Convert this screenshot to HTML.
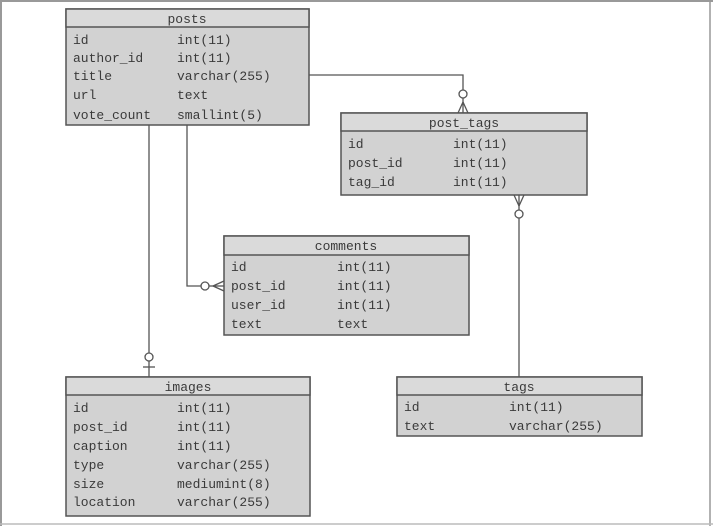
<!DOCTYPE html>
<html><head><meta charset="utf-8"><style>
html,body{margin:0;padding:0;background:#fff;}
svg{display:block;}
text{font-family:"Liberation Mono",monospace;font-size:13px;fill:#3a3a3a;}
</style></head><body>
<svg width="713" height="526" viewBox="0 0 713 526" xmlns="http://www.w3.org/2000/svg">
<rect x="0" y="0" width="713" height="526" fill="#fff"/>
<line x1="0" y1="1" x2="713" y2="1" stroke="#999" stroke-width="2"/>
<line x1="1" y1="0" x2="1" y2="526" stroke="#999" stroke-width="2"/>
<line x1="710" y1="0" x2="710" y2="526" stroke="#999" stroke-width="1.5"/>
<line x1="0" y1="524" x2="713" y2="524" stroke="#bbb" stroke-width="1.5"/>

<g stroke="#555" stroke-width="1.3" fill="none">
<!-- posts -> post_tags -->
<polyline points="309,75 463,75 463,90"/>
<circle cx="463" cy="94" r="4" fill="#fff"/>
<line x1="463" y1="98" x2="463" y2="113"/>
<line x1="463" y1="102" x2="458" y2="113"/>
<line x1="463" y1="102" x2="468" y2="113"/>
<!-- post_tags -> tags -->
<line x1="519" y1="195" x2="519" y2="210"/>
<line x1="519" y1="206" x2="514" y2="195"/>
<line x1="519" y1="206" x2="524" y2="195"/>
<circle cx="519" cy="214" r="4" fill="#fff"/>
<line x1="519" y1="218" x2="519" y2="377"/>
<!-- posts -> images -->
<line x1="149" y1="125" x2="149" y2="353"/>
<circle cx="149" cy="357" r="4" fill="#fff"/>
<line x1="149" y1="361" x2="149" y2="377"/>
<line x1="143" y1="367" x2="155" y2="367"/>
<!-- posts -> comments -->
<polyline points="187,125 187,286 201,286"/>
<circle cx="205" cy="286" r="4" fill="#fff"/>
<line x1="209" y1="286" x2="224" y2="286"/>
<line x1="213" y1="286" x2="224" y2="281"/>
<line x1="213" y1="286" x2="224" y2="291"/>
</g>

<g stroke="#555" stroke-width="1.5">
<!-- posts -->
<rect x="66" y="9" width="243" height="116" fill="#d2d2d2"/>
<rect x="66" y="9" width="243" height="18" fill="#dadada"/>
<!-- post_tags -->
<rect x="341" y="113" width="246" height="82" fill="#d2d2d2"/>
<rect x="341" y="113" width="246" height="18" fill="#dadada"/>
<!-- comments -->
<rect x="224" y="236" width="245" height="99" fill="#d2d2d2"/>
<rect x="224" y="236" width="245" height="19" fill="#dadada"/>
<!-- images -->
<rect x="66" y="377" width="244" height="139" fill="#d2d2d2"/>
<rect x="66" y="377" width="244" height="18" fill="#dadada"/>
<!-- tags -->
<rect x="397" y="377" width="245" height="59" fill="#d2d2d2"/>
<rect x="397" y="377" width="245" height="18" fill="#dadada"/>
</g>

<text x="187" y="23" text-anchor="middle">posts</text>
<text x="73" y="44">id</text><text x="177" y="44">int(11)</text>
<text x="73" y="62">author_id</text><text x="177" y="62">int(11)</text>
<text x="73" y="80">title</text><text x="177" y="80">varchar(255)</text>
<text x="73" y="99">url</text><text x="177" y="99">text</text>
<text x="73" y="119">vote_count</text><text x="177" y="119">smallint(5)</text>

<text x="464" y="127" text-anchor="middle">post_tags</text>
<text x="348" y="148">id</text><text x="453" y="148">int(11)</text>
<text x="348" y="167">post_id</text><text x="453" y="167">int(11)</text>
<text x="348" y="186">tag_id</text><text x="453" y="186">int(11)</text>

<text x="346" y="250" text-anchor="middle">comments</text>
<text x="231" y="271">id</text><text x="337" y="271">int(11)</text>
<text x="231" y="290">post_id</text><text x="337" y="290">int(11)</text>
<text x="231" y="309">user_id</text><text x="337" y="309">int(11)</text>
<text x="231" y="328">text</text><text x="337" y="328">text</text>

<text x="188" y="391" text-anchor="middle">images</text>
<text x="73" y="412">id</text><text x="177" y="412">int(11)</text>
<text x="73" y="431">post_id</text><text x="177" y="431">int(11)</text>
<text x="73" y="450">caption</text><text x="177" y="450">int(11)</text>
<text x="73" y="469">type</text><text x="177" y="469">varchar(255)</text>
<text x="73" y="488">size</text><text x="177" y="488">mediumint(8)</text>
<text x="73" y="506">location</text><text x="177" y="506">varchar(255)</text>

<text x="519" y="391" text-anchor="middle">tags</text>
<text x="404" y="411">id</text><text x="509" y="411">int(11)</text>
<text x="404" y="430">text</text><text x="509" y="430">varchar(255)</text>
</svg>
</body></html>
